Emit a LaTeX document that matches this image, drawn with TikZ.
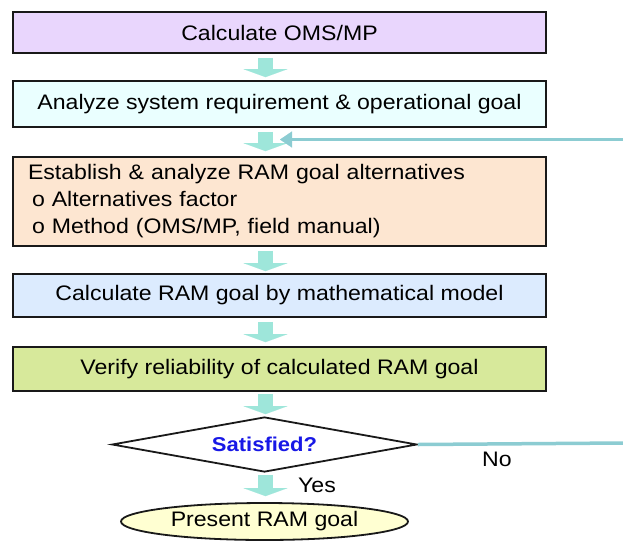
\documentclass[tikz,border=0pt]{standalone}
\usepackage{fontspec}
\setmainfont{Liberation Sans}[FakeStretch=1.1]
\usetikzlibrary{shapes.geometric,arrows.meta,calc}
\definecolor{cA}{HTML}{E9D6FD}
\definecolor{cB}{HTML}{EAFFFF}
\definecolor{cC}{HTML}{FDE6D1}
\definecolor{cD}{HTML}{DCEBFE}
\definecolor{cE}{HTML}{D7E99B}
\definecolor{cF}{HTML}{FFFFD2}
\definecolor{arrfill}{HTML}{9EE6DA}
\definecolor{loopline}{HTML}{8CCCD2}
\definecolor{satblue}{HTML}{1818E6}
\begin{document}
\begin{tikzpicture}[x=1pt,y=-1pt,
  every node/.style={font=\fontsize{21pt}{27pt}\selectfont, text=black},
  stepbox/.style={rectangle, draw=black!90, line width=1.8pt, minimum width=533pt, inner sep=0pt},
  blockarrow/.style={draw=arrfill, line width=15pt,
     -{Triangle[width=44pt,length=8pt,line width=0.1pt,fill=arrfill]}},
  loopstyle/.style={draw=loopline, line width=3.5pt},
  decision/.style={diamond, draw=black!90, line width=1.8pt, fill=white, minimum width=305pt, minimum height=55pt, inner sep=0pt, shape aspect=5.5},
  terminal/.style={ellipse, draw=black!90, line width=1.8pt, fill=cF, minimum width=287pt, minimum height=37pt, inner sep=0pt}
]
\useasboundingbox (0,0) rectangle (623,541);
\fill[white] (0,0) rectangle (623,541);

\node[stepbox, fill=cA, minimum height=41pt] (b1) at (279.5,32.5) {Calculate OMS/MP};
\node[stepbox, fill=cB, minimum height=46pt] (b2) at (279.5,104) {Analyze system requirement \& operational goal};
\node[stepbox, fill=cC, minimum height=89pt, text width=503pt, align=left] (b3) at (279.5,201.5)
  {Establish \& analyze RAM goal alternatives\\ \hspace*{4pt}o Alternatives factor\\ \hspace*{4pt}o Method (OMS/MP, field manual)};
\node[stepbox, fill=cD, minimum height=43pt] (b4) at (279.5,295.5) {Calculate RAM goal by mathematical model};
\node[stepbox, fill=cE, minimum height=44pt] (b5) at (279.5,369) {Verify reliability of calculated RAM goal};
\node[decision] (d) at (264.5,444.5) {\fontsize{20pt}{24pt}\selectfont\bfseries\color{satblue}Satisfied?};
\node[terminal] (e) at (264.5,521.5) {Present RAM goal};

\node (no) at (497,459) {No};
\node (yes) at (317,485) {Yes};

\coordinate (fbstart) at (623,139.5);
\coordinate (fbend) at (280,139.5);
\coordinate (noend) at (623,443);

\draw[blockarrow, shorten <=4pt, shorten >=3pt] ([xshift=-14pt]b1.south) -- ([xshift=-14pt]b2.north);
\draw[blockarrow, shorten <=4pt, shorten >=5pt] ([xshift=-14pt]b2.south) -- ([xshift=-14pt]b3.north);
\draw[blockarrow, shorten <=4pt, shorten >=2pt] ([xshift=-14pt]b3.south) -- ([xshift=-14pt]b4.north);
\draw[blockarrow, shorten <=4pt, shorten >=4pt] ([xshift=-14pt]b4.south) -- ([xshift=-14pt]b5.north);
\draw[blockarrow, shorten <=2pt, shorten >=2pt] ([xshift=-14pt]b5.south) -- ([xshift=1pt]d.north);
\draw[blockarrow, shorten <=2pt, shorten >=6pt] ([xshift=1pt]d.south) -- ([xshift=1pt]e.north);

\draw[loopstyle, -{Triangle[width=16pt,length=12pt,line width=0.1pt,fill=loopline]}] (fbstart) -- (fbend);
\draw[loopstyle] (d.east) -- (noend);
\end{tikzpicture}
\end{document}
